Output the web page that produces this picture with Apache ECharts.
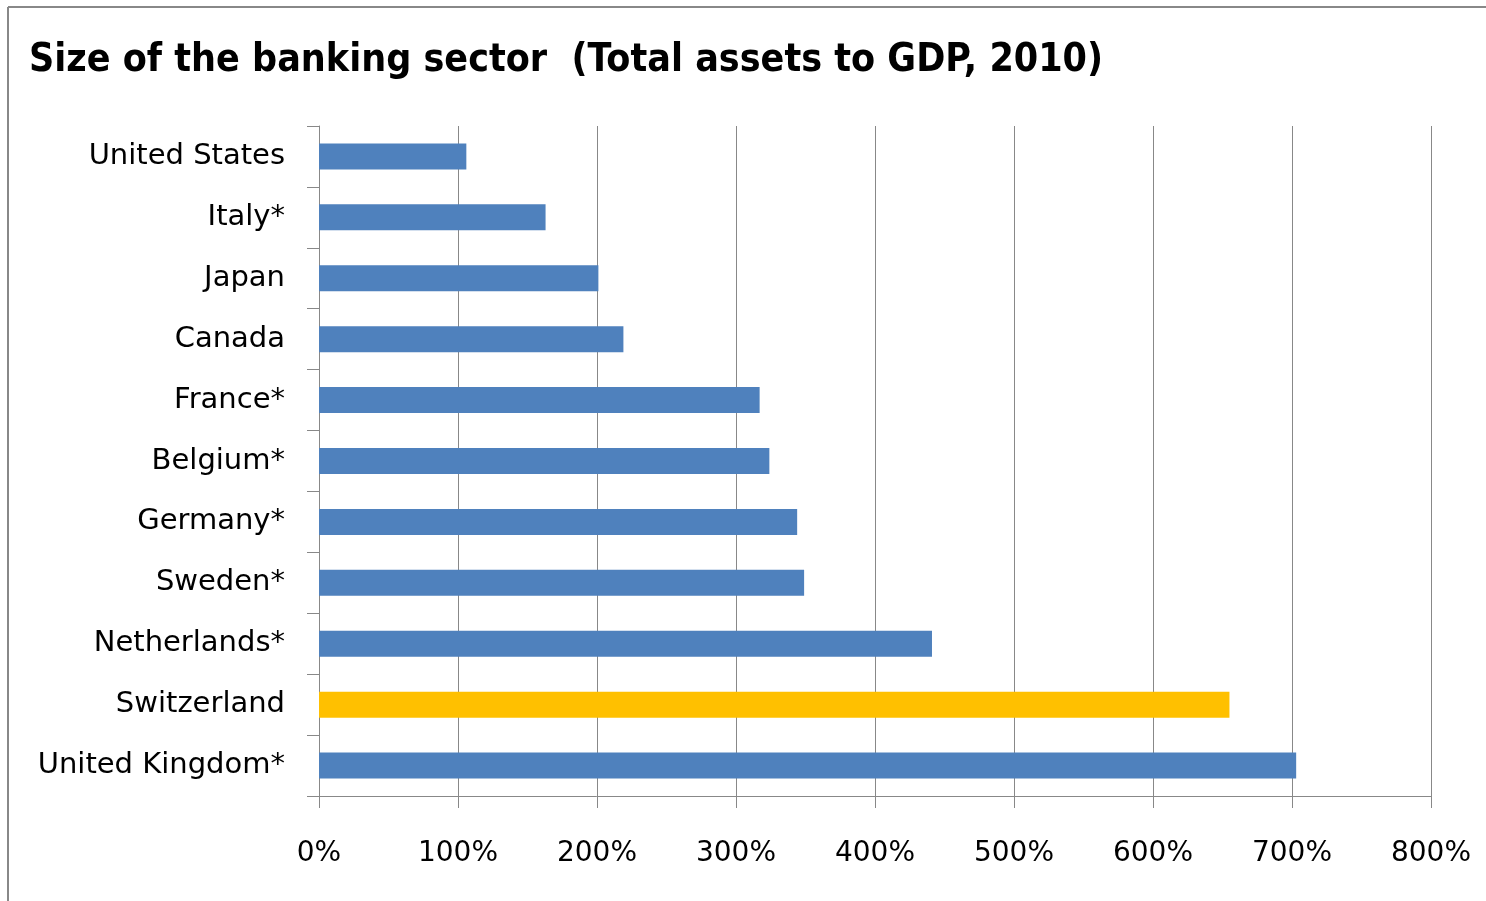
<!DOCTYPE html>
<html><head><meta charset="utf-8">
<script src="https://cdn.jsdelivr.net/npm/echarts@6/dist/echarts.min.js"></script>
<style>html,body{margin:0;padding:0;background:#fff}#c{width:1486px;height:901px}</style>
</head><body><div id="c"></div>
<script>
const categories = ["United States","Italy*","Japan","Canada","France*","Belgium*","Germany*","Sweden*","Netherlands*","Switzerland","United Kingdom*"];
const values = [106, 163, 201, 219, 317, 324, 344, 349, 441, 655, 703];
const highlight = "Switzerland";
const xTicks = [0, 100, 200, 300, 400, 500, 600, 700, 800];
const title = "Size of the banking sector  (Total assets to GDP, 2010)";

const chart = echarts.init(document.getElementById('c'), null, {renderer:'canvas'});
chart.setOption({
  animation:false,
  backgroundColor:'#fff',
  title:{text:title,left:24,top:36,textStyle:{fontFamily:'DejaVu Sans Condensed',fontWeight:'bold',fontSize:39,color:'#000'}},
  graphic:[
    {type:'line',shape:{x1:8,y1:7,x2:1486,y2:7},style:{stroke:'#888',lineWidth:2}},
    {type:'line',shape:{x1:8,y1:7,x2:8,y2:901},style:{stroke:'#888',lineWidth:2}}
  ],
  grid:{left:319,right:55,top:126,bottom:105,containLabel:false},
  xAxis:{type:'value',min:xTicks[0],max:xTicks[xTicks.length-1],interval:100,
    axisLine:{show:true,lineStyle:{color:'#888',width:1}},
    axisTick:{show:true,length:12,lineStyle:{color:'#888'}},
    splitLine:{show:true,lineStyle:{color:'#888',width:1}},
    axisLabel:{formatter:'{value}%',margin:44,fontFamily:'DejaVu Sans',fontSize:28,color:'#000'}},
  yAxis:{type:'category',data:categories,inverse:true,
    axisLine:{show:true,lineStyle:{color:'#888',width:1}},
    axisTick:{show:true,length:12,lineStyle:{color:'#888'}},
    axisLabel:{margin:34,fontFamily:'DejaVu Sans',fontSize:29,color:'#000'}},
  series:[{type:'bar',barWidth:26,
    data:values.map((v,i)=>({value:v,itemStyle:{color:categories[i]===highlight?'#FFC000':'#4F81BD'}}))}]
});
</script></body></html>
